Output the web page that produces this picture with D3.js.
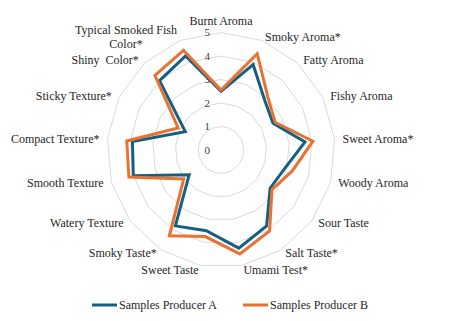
<!DOCTYPE html>
<html>
<head>
<meta charset="utf-8">
<script src="https://cdn.jsdelivr.net/npm/d3@7"></script>
<style>
  body { margin: 0; background: #fff; }
</style>
</head>
<body>
<div id="chart"></div>
<script>
// data
var categories = ["Burnt Aroma", "Smoky Aroma*", "Fatty Aroma", "Fishy Aroma", "Sweet Aroma*",
  "Woody Aroma", "Sour Taste", "Salt Taste*", "Umami Test*", "Sweet Taste", "Smoky Taste*",
  "Watery Texture", "Smooth Texture", "Compact Texture*", "Sticky Texture*", "Shiny  Color*",
  "Typical Smoked Fish\nColor*"];
var producerA = [2.5, 3.9, 2.85, 2.55, 3.7, 2.9, 2.7, 3.8, 4.25, 3.5, 3.8, 1.75, 4.0, 3.9, 1.75, 4.0, 4.3];
var producerB = [2.55, 4.4, 3.05, 2.65, 4.05, 3.25, 2.8, 4.05, 4.5, 3.75, 4.3, 2.05, 4.2, 4.15, 2.1, 4.3, 4.55];
var seriesNames = ["Samples Producer A", "Samples Producer B"];
var ticks = [0, 1, 2, 3, 4, 5];

var width = 451, height = 321;
var cx = 221, cy = 150, ky = 1.03;
var colors = ["#156082", "#E97132"];
var font = "'Liberation Serif'";

var svg = d3.select("#chart").append("svg")
    .attr("width", width)
    .attr("height", height);

var r = d3.scaleLinear().domain([0, 5]).range([0, 114]);
var angle = d3.scaleLinear().domain([0, categories.length]).range([0, 2 * Math.PI]);

function px(i, v) { return cx + r(v) * Math.sin(angle(i)); }
function py(i, v) { return cy - r(v) * Math.cos(angle(i)) * ky; }

// grid rings
var idx = d3.range(categories.length);
var ring = d3.line()
    .x(d => d.x).y(d => d.y)
    .curve(d3.curveLinearClosed);

svg.append("g").selectAll("path")
    .data(ticks.filter(t => t > 0))
  .enter().append("path")
    .attr("d", t => ring(idx.map(i => ({x: px(i, t), y: py(i, t)}))))
    .attr("fill", "none")
    .attr("stroke", "#d9d9d9")
    .attr("stroke-width", 1);

// tick labels
svg.append("g").selectAll("text")
    .data(ticks)
  .enter().append("text")
    .attr("x", cx - 11)
    .attr("y", t => py(0, t))
    .attr("dy", "0.35em")
    .attr("text-anchor", "end")
    .style("font-family", font)
    .style("font-size", "11px")
    .style("fill", "#404040")
    .text(t => t);

// series
var seriesData = [producerA, producerB];
svg.append("g").selectAll("path")
    .data(seriesData)
  .enter().append("path")
    .attr("d", s => ring(s.map((v, i) => ({x: px(i, v), y: py(i, v)}))))
    .attr("fill", "none")
    .attr("stroke", (s, k) => colors[k])
    .attr("stroke-width", 3)
    .attr("stroke-linejoin", "miter");

// category labels
var labR = 5.35; // in value units, just outside the outer ring
var labels = svg.append("g");
categories.forEach(function(name, i) {
  var s = Math.sin(angle(i));
  var x = cx + r(labR) * s;
  var y = cy - r(5.17) * Math.cos(angle(i)) * ky;
  var lines = name.split("\n");
  var t = labels.append("text")
      .style("font-family", font)
      .style("font-size", "12px")
      .style("fill", "#262626")
      .style("white-space", "pre");
  if (Math.abs(s) < 0.01) {
    t.attr("x", x).attr("y", y - 4).attr("text-anchor", "middle").text(name);
    return;
  }
  var anchor = s > 0 ? "start" : "end";
  if (lines.length === 1) {
    t.attr("x", x).attr("y", y).attr("dy", "0.35em").attr("text-anchor", anchor).text(name);
  } else {
    var lh = 14;
    var spans = t.selectAll("tspan").data(lines).enter().append("tspan")
        .attr("y", (d, j) => y + (j - (lines.length - 1) / 2) * lh)
        .attr("dy", "0.35em")
        .text(d => d);
    var w = d3.max(spans.nodes(), n => n.getComputedTextLength());
    var mid = s > 0 ? x + w / 2 : x - w / 2;
    spans.attr("x", mid).attr("text-anchor", "middle");
  }
});

// legend
var legend = svg.append("g");
var legX = [92, 243];
seriesNames.forEach(function(n, k) {
  var g = legend.append("g").attr("transform", "translate(" + legX[k] + ",305)");
  g.append("line").attr("x1", 0).attr("x2", 25).attr("y1", 0).attr("y2", 0)
    .attr("stroke", colors[k]).attr("stroke-width", 3);
  g.append("text").attr("x", 27).attr("y", 0).attr("dy", "0.35em")
    .style("font-family", font)
    .style("font-size", "12px")
    .style("fill", "#262626")
    .text(n);
});
</script>
</body>
</html>
